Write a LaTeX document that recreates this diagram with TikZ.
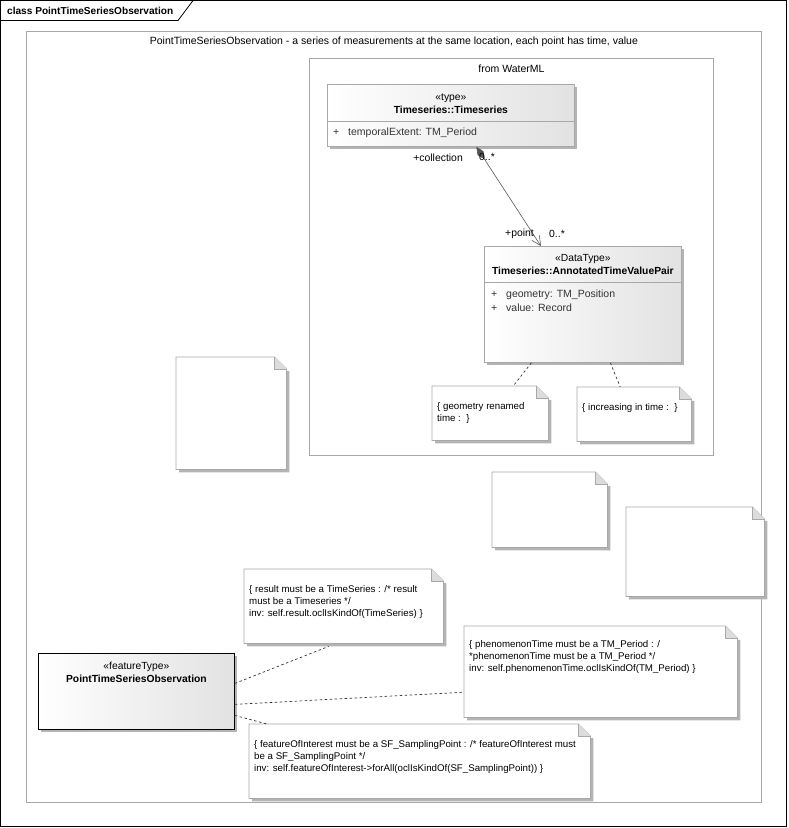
\documentclass[tikz,border=0pt]{standalone}
\usepackage{fontspec}
\setmainfont{Liberation Sans}
\usetikzlibrary{arrows.meta, positioning, shadows}
\definecolor{umlGrey}{HTML}{A8A8A8}
\definecolor{umlShadow}{HTML}{B4B4B4}
\definecolor{umlFold}{HTML}{DCDCDC}
\definecolor{umlGrad}{HTML}{E2E2E2}
\definecolor{umlLine}{HTML}{555555}
\definecolor{umlText}{HTML}{333333}
\tikzset{
  boundary/.style={rectangle, draw=umlGrey, line width=0.8pt, anchor=north west, inner sep=0pt},
  umlclass/.style={rectangle, draw=umlGrey, line width=0.8pt, anchor=north west,
    left color=white, right color=umlGrad, inner sep=0pt,
    general shadow={fill=umlShadow, shadow xshift=3pt, shadow yshift=-3pt}},
  notebox/.style={rectangle, anchor=north west, inner sep=0pt},
  notetext/.style={anchor=north west, align=left, inner sep=0pt,
    font=\fontsize{9.7}{12}\selectfont},
  classhead/.style={align=center, inner sep=0pt, font=\fontsize{10.3}{13}\selectfont},
  attr/.style={anchor=west, inner sep=0pt, text=umlText, font=\fontsize{10.5}{12}\selectfont},
  endlabel/.style={inner sep=0pt, font=\fontsize{10.4}{11}\selectfont},
  framelabel/.style={inner sep=0pt, font=\fontsize{10.5}{12}\selectfont},
  assoc/.style={draw=umlLine, line width=0.6pt},
  notelink/.style={draw=black!80, line width=0.7pt, dash pattern=on 2.5pt off 2.5pt}
}

\begin{document}
\begin{tikzpicture}[x=1pt, y=-1pt]
  \useasboundingbox (0,0) rectangle (788,828);
  % diagram frame
  \draw[black, line width=0.8pt] (0.5,0.5) rectangle (786.5,826.5);
  \draw[black, line width=0.8pt] (0.5,20.5) -- (178,20.5) -- (193,0.5);
  \node[framelabel, anchor=west, font=\fontsize{10.1}{12}\selectfont] (title) at (7,10.5) {\textbf{class PointTimeSeriesObservation}};

  % boundaries
  \node[boundary, minimum width=735, minimum height=771] (pkgObs) at (26,31) {};
  \node[framelabel] (pkgObsLbl) at ([shift={(0,11)}]pkgObs.north) {PointTimeSeriesObservation - a series of measurements at the same location, each point has time, value};
  \node[boundary, minimum width=404, minimum height=397] (pkgWml) at (309,58) {};
  \node[framelabel] (pkgWmlLbl) at ([shift={(0,11)}]pkgWml.north) {from WaterML};

  % classes
  \node[umlclass, minimum width=247, minimum height=62] (ts) at (327,84) {};
  \draw[umlGrey, line width=0.8pt] ([shift={(0,37)}]ts.north west) -- ([shift={(0,37)}]ts.north east);
  \node[classhead] (tsHead) at ([shift={(0,19.5)}]ts.north) {«type»\\\textbf{Timeseries::Timeseries}};
  \node[attr] (tsAttr) at ([shift={(6,49)}]ts.north west) {\makebox[15pt][l]{+}temporalExtent: TM\_Period};

  \node[umlclass, minimum width=197, minimum height=116] (atvp) at (484,246) {};
  \draw[umlGrey, line width=0.8pt] ([shift={(0,36)}]atvp.north west) -- ([shift={(0,36)}]atvp.north east);
  \node[classhead] (atvpHead) at ([shift={(0,18.5)}]atvp.north) {«DataType»\\\textbf{Timeseries::AnnotatedTimeValuePair}};
  \node[attr] (atvpAttrA) at ([shift={(7,48.5)}]atvp.north west) {\makebox[15pt][l]{+}geometry: TM\_Position};
  \node[attr] (atvpAttrB) at ([shift={(7,61.5)}]atvp.north west) {\makebox[15pt][l]{+}value: Record};

  \node[umlclass, draw=black, minimum width=196, minimum height=76] (feat) at (38,653) {};
  \node[classhead] (featHead) at ([shift={(0,19.5)}]feat.north) {«featureType»\\\textbf{PointTimeSeriesObservation}};

  % association
  \draw[assoc, {Diamond[length=15pt, width=7pt, fill=umlLine]}-{Straight Barb[length=9pt, width=9pt]}]
    ([xshift=25.5pt]ts.south) -- ([xshift=-42pt]atvp.north);
  \node[endlabel, anchor=east] (lblColl) at (463,158) {+collection};
  \node[endlabel, anchor=west] (lblCollM) at (479,157) {0..*};
  \node[endlabel, anchor=east] (lblPoint) at (534,234) {+point};
  \node[endlabel, anchor=west] (lblPointM) at (549,234) {0..*};

  % notes
  \node[notebox, minimum width=116, minimum height=54] (ngeo) at (432,386) {};
  \node[notebox, minimum width=114, minimum height=54] (ninc) at (577,387) {};
  \node[notebox, minimum width=110, minimum height=112] (nblankA) at (176,357) {};
  \node[notebox, minimum width=115, minimum height=75] (nblankB) at (492,472) {};
  \node[notebox, minimum width=138, minimum height=89] (nblankC) at (626,507) {};
  \node[notebox, minimum width=199, minimum height=74] (nres) at (244,569) {};
  \node[notebox, minimum width=273, minimum height=91] (nphen) at (464,626) {};
  \node[notebox, minimum width=341, minimum height=74] (nfoi) at (249,724) {};
  \foreach \n in {ngeo, ninc, nblankA, nblankB, nblankC, nres, nphen, nfoi}{
    \fill[umlShadow] ([shift={(3,3)}]\n.north west) -- ([shift={(3,14)}]\n.north east)
      -- ([shift={(3,3)}]\n.south east) -- ([shift={(3,3)}]\n.south west) -- cycle;
    \filldraw[fill=white, draw=umlGrey, line width=0.8pt] (\n.north west) -- ([shift={(-12,0)}]\n.north east)
      -- ([shift={(0,12)}]\n.north east) -- (\n.south east) -- (\n.south west) -- cycle;
    \filldraw[fill=umlFold, draw=umlGrey, line width=0.8pt] ([shift={(-12,0)}]\n.north east)
      -- ([shift={(-12,12)}]\n.north east) -- ([shift={(0,12)}]\n.north east);
  }
  \node[notetext] (tgeo) at ([shift={(5,16)}]ngeo.north west) {\{ geometry renamed\\time :~~\}};
  \node[notetext] (tinc) at ([shift={(5,16)}]ninc.north west) {\{ increasing in time :~~\}};
  \node[notetext] (tres) at ([shift={(5,16)}]nres.north west) {\{ result must be a TimeSeries : /* result\\must be a Timeseries */\\inv: self.result.oclIsKindOf(TimeSeries) \}};
  \node[notetext] (tphen) at ([shift={(5,14)}]nphen.north west) {\{ phenomenonTime must be a TM\_Period : /\\*phenomenonTime must be a TM\_Period */\\inv: self.phenomenonTime.oclIsKindOf(TM\_Period) \}};
  \node[notetext] (tfoi) at ([shift={(5,16)}]nfoi.north west) {\{ featureOfInterest must be a SF\_SamplingPoint : /* featureOfInterest must\\be a SF\_SamplingPoint */\\inv: self.featureOfInterest->forAll(oclIsKindOf(SF\_SamplingPoint)) \}};

  % note links
  \draw[notelink] ([xshift=-51.5pt]atvp.south) -- ([xshift=23pt]ngeo.north);
  \draw[notelink] ([xshift=27.5pt]atvp.south) -- ([xshift=-14pt]ninc.north);
  \draw[notelink] ([shift={(0,-8)}]feat.east) -- ([shift={(-15,3)}]nres.south);
  \draw[notelink] ([shift={(0,13)}]feat.east) -- ([shift={(0,20.5)}]nphen.west);
  \draw[notelink] ([shift={(0,24)}]feat.east) -- ([shift={(18,0)}]nfoi.north west);
\end{tikzpicture}
\end{document}
